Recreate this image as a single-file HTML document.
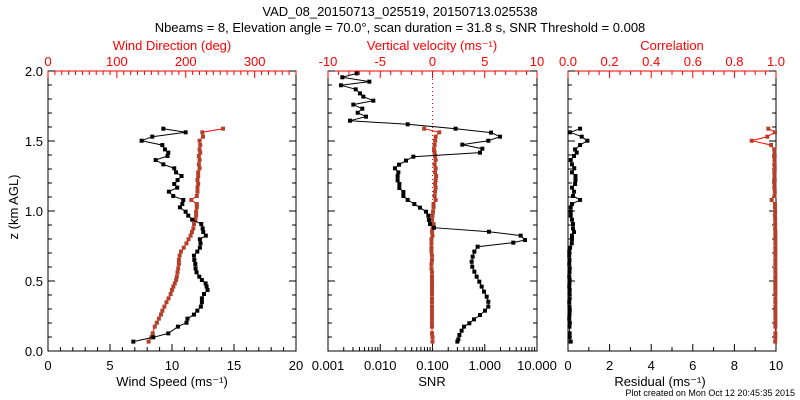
<!DOCTYPE html>
<html><head><meta charset="utf-8"><style>
body{margin:0;background:#fff}
svg{display:block;font-family:"Liberation Sans",sans-serif}
</style></head><body>
<svg id="c" width="800" height="400" xmlns="http://www.w3.org/2000/svg">
<text x="400" y="16" text-anchor="middle" font-size="13">VAD_08_20150713_025519, 20150713.025538</text>
<text x="400" y="32" text-anchor="middle" font-size="13">Nbeams = 8, Elevation angle = 70.0°, scan duration = 31.8 s, SNR Threshold = 0.008</text>
<text x="795" y="396" text-anchor="end" font-size="9">Plot created on Mon Oct 12 20:45:35 2015</text>
</svg>
<script>
const heights=[1.588,1.562,1.531,1.502,1.471,1.440,1.417,1.393,1.364,1.333,1.305,1.276,1.250,1.221,1.193,1.167,1.138,1.107,1.079,1.050,1.026,0.995,0.967,0.938,0.907,0.876,0.850,0.824,0.798,0.769,0.738,0.710,0.681,0.650,0.621,0.590,0.562,0.531,0.507,0.483,0.460,0.436,0.407,0.376,0.348,0.317,0.288,0.260,0.231,0.202,0.174,0.126,0.098,0.067];
const windSpeed=[9.30,11.10,8.41,7.55,9.22,9.43,9.70,9.64,8.68,9.30,10.18,10.32,10.77,10.45,10.18,10.42,9.75,10.10,10.91,10.83,10.64,11.10,11.31,11.63,12.36,12.47,12.52,12.73,12.25,12.30,12.25,12.04,11.77,11.80,11.88,11.90,11.98,12.20,12.41,12.71,12.79,12.87,12.58,12.41,12.41,12.33,12.04,11.77,11.25,11.17,10.48,9.70,8.49,6.88];
const windDir=[254,224,225,220,221,220,221,219,220,219,220,218,218,217,218,217,217,216,208,216,216,215,215,214,212,211,209,207,204,201,197,193,191,190,190,189,188,187,186,184,182,180,178,175,172,169,166,164,161,158,155,152,150,146];
const vertVel=[-0.8,0.65,0.3,0.25,0.2,0.15,0.2,0.25,0.3,0.2,0.3,0.25,0.35,0.3,0.25,0.3,0.25,0.2,0.3,0.1,0.1,0.05,0.0,-0.05,0.1,0.0,-0.05,0.0,-0.1,-0.1,-0.1,-0.1,-0.05,-0.05,-0.1,-0.1,-0.05,-0.05,-0.05,-0.05,-0.05,-0.05,-0.05,-0.05,-0.05,-0.05,-0.05,-0.05,-0.05,-0.05,-0.05,-0.05,0.0,0.0];
const residual=[0.58,0.1,0.66,0.93,0.58,0.34,0.42,0.29,0.13,0.19,0.30,0.19,0.36,0.36,0.34,0.19,0.29,0.24,0.58,0.19,0.13,0.13,0.13,0.19,0.24,0.24,0.29,0.19,0.19,0.18,0.1,0.06,0.06,0.07,0.06,0.08,0.07,0.06,0.08,0.07,0.06,0.08,0.07,0.08,0.06,0.07,0.08,0.07,0.06,0.08,0.07,0.08,0.07,0.13];
const correlation=[0.963,0.995,0.958,0.883,0.976,0.992,0.993,0.991,0.993,0.992,0.994,0.992,0.993,0.991,0.993,0.992,0.994,0.993,0.979,0.995,0.995,0.996,0.995,0.996,0.996,0.996,0.997,0.997,0.997,0.997,0.997,0.997,0.997,0.997,0.997,0.997,0.997,0.997,0.997,0.997,0.997,0.997,0.997,0.997,0.997,0.997,0.997,0.997,0.997,0.997,0.997,0.997,0.997,0.996];
const snrHeights=[1.983,1.955,1.924,1.898,1.869,1.840,1.817,1.788,1.760,1.731,1.702,1.674,1.645,1.619,1.588,1.560,1.531,1.502,1.474,1.445,1.417,1.388,1.360,1.331,1.305,1.276,1.248,1.219,1.193,1.164,1.136,1.107,1.079,1.050,1.024,0.995,0.967,0.936,0.907,0.881,0.852,0.824,0.793,0.774,0.745,0.710,0.674,0.638,0.602,0.567,0.531,0.495,0.460,0.424,0.388,0.352,0.317,0.288,0.257,0.226,0.198,0.174,0.145,0.114,0.083,0.067];
const snr=[0.00354,0.00188,0.00618,0.00177,0.00339,0.00410,0.00474,0.00737,0.00305,0.00454,0.00370,0.00534,0.00264,0.0335,0.277,1.318,1.96,1.17,0.372,0.899,0.811,0.043,0.0311,0.0229,0.0191,0.0222,0.0215,0.0215,0.0232,0.0232,0.0277,0.0277,0.0335,0.0449,0.0577,0.0751,0.0832,0.0854,0.0896,0.107,1.205,4.87,5.89,3.52,0.731,0.632,0.587,0.562,0.576,0.632,0.700,0.787,0.873,0.968,1.09,1.17,1.17,1.01,0.811,0.622,0.507,0.401,0.361,0.327,0.312,0.299];

const NS="http://www.w3.org/2000/svg";
const svg=document.getElementById('c');
const T=71,B=351;
const RED="#ff0000",BR="#b5402a";
function el(t,a,p){const e=document.createElementNS(NS,t);for(const k in a)e.setAttribute(k,a[k]);(p||svg).appendChild(e);return e;}
function yz(z){return B-(z/2)*(B-T);}
function txt(x,y,s,col,anchor,size){const t=el('text',{x:x,y:y,'font-size':size||13,fill:col||'#000','text-anchor':anchor||'middle'});t.textContent=s;return t;}

function panel(L,R,name){
  const g=el('g',{});
  
  
  el('rect',{x:L,y:T,width:R-L,height:B-T,fill:'none',stroke:'#000','stroke-width':1},g);
  el('line',{x1:L,y1:T,x2:R,y2:T,stroke:RED},g);
  // left ticks
  for(let i=0;i<=20;i++){const z=i*0.1,y=yz(z),len=(i%5==0)?7:4;
    el('line',{x1:L,y1:y,x2:L+len,y2:y,stroke:'#000'},g);
    el('line',{x1:R,y1:y,x2:R-len,y2:y,stroke:'#000'},g);}
  return g;
}
function path(g,xs,ys,stroke,name){
  let d='';for(let i=0;i<xs.length;i++)d+=(i?'L':'M')+xs[i].toFixed(1)+','+ys[i].toFixed(1);
  const p=el('path',{d:d,fill:'none',stroke:stroke,'stroke-width':1},g);
  
  
  for(let i=0;i<xs.length;i++){
    const m=el('rect',{x:xs[i]-2,y:ys[i]-2,width:4,height:4,fill:stroke==='#000'?'#000':BR},g);
    
    
  }
}

// Panel 1
const p1L=48,p1R=296;
const g1=panel(p1L,p1R,'wind-panel');
const xs1=v=>p1L+v/20*(p1R-p1L), xd1=v=>p1L+v/360*(p1R-p1L);
for(let v=0;v<=20;v++){const x=xs1(v),len=v%5==0?7:4;el('line',{x1:x,y1:B,x2:x,y2:B-len,stroke:'#000'},g1);if(v%5==0)txt(x,370,String(v));}
for(let v=0;v<=360;v+=10){const x=xd1(v),len=v%100==0?7:4;el('line',{x1:x,y1:T,x2:x,y2:T+len,stroke:RED},g1);if(v%100==0)txt(x,66,String(v),RED);}
const ytl=['0.0','0.5','1.0','1.5','2.0'];
ytl.forEach((s,i)=>txt(43,yz(i*0.5)+5,s,'#000','end'));
const yt=txt(22,211,'z (km AGL)');yt.setAttribute('transform','rotate(-90 18 211)');

txt(172,50,'Wind Direction (deg)',RED);
txt(172,386,'Wind Speed (ms⁻¹)');
path(g1,windDir.map(xd1),heights.map(yz),RED,'wind-direction');
path(g1,windSpeed.map(xs1),heights.map(yz),'#000','wind-speed');

// Panel 2
const p2L=328,p2R=537;
const g2=panel(p2L,p2R,'snr-panel');
const xl=v=>p2L+(Math.log10(v)+3)/4*(p2R-p2L), xv=v=>(p2L+p2R)/2+v/20*(p2R-p2L);
for(let d=-3;d<=1;d++){for(let k=1;k<=9;k++){if(d==1&&k>1)break;const v=k*Math.pow(10,d),x=xl(v),len=k==1?7:4;el('line',{x1:x,y1:B,x2:x,y2:B-len,stroke:'#000'},g2);}}
['0.001','0.010','0.100','1.000','10.000'].forEach((s,i)=>txt(p2L+i*(p2R-p2L)/4,370,s));
for(let v=-10;v<=10;v++){const x=xv(v),len=v%5==0?7:4;el('line',{x1:x,y1:T,x2:x,y2:T+len,stroke:RED},g2);if(v%5==0)txt(x,66,String(v),RED);}
el('line',{x1:xv(0),y1:T,x2:xv(0),y2:B,stroke:RED,'stroke-dasharray':'1,3'},g2);
txt(432,50,'Vertical velocity (ms⁻¹)',RED);
txt(432,386,'SNR');
path(g2,vertVel.map(xv),heights.map(yz),RED,'vertical-velocity');
path(g2,snr.map(xl),snrHeights.map(yz),'#000','snr');

// Panel 3
const p3L=568,p3R=776;
const g3=panel(p3L,p3R,'residual-panel');
const xr=v=>p3L+v/10*(p3R-p3L), xc=v=>p3L+v*(p3R-p3L);
for(let v=0;v<=10;v++){const x=xr(v),len=v%2==0?7:4;el('line',{x1:x,y1:B,x2:x,y2:B-len,stroke:'#000'},g3);if(v%2==0)txt(x,370,String(v));}
for(let i=0;i<=20;i++){const v=i*0.05,x=xc(v),len=i%4==0?7:4;el('line',{x1:x,y1:T,x2:x,y2:T+len,stroke:RED},g3);if(i%4==0)txt(x,66,v.toFixed(1),RED);}
txt(672,50,'Correlation',RED);
txt(660,386,'Residual (ms⁻¹)');
path(g3,correlation.map(xc),heights.map(yz),RED,'correlation');
path(g3,residual.map(xr),heights.map(yz),'#000','residual');
</script>
</body></html>
